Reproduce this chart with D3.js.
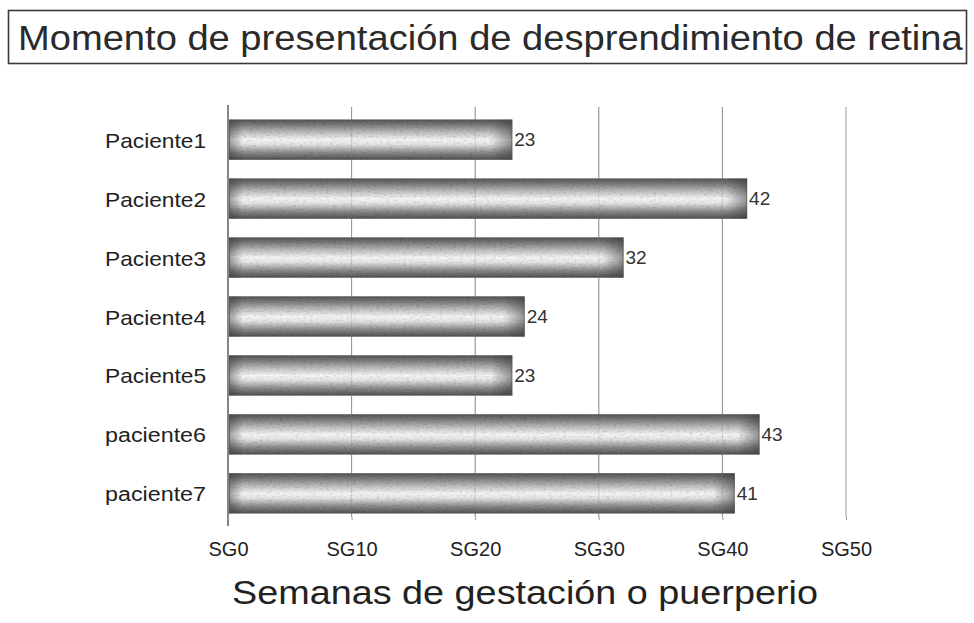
<!DOCTYPE html>
<html>
<head>
<meta charset="utf-8">
<script src="https://cdn.jsdelivr.net/npm/d3@7"></script>
<style>
  html, body { margin: 0; padding: 0; background: #fff; }
  svg { display: block; font-family: "Liberation Sans", Arial, Helvetica, sans-serif; }
</style>
</head>
<body>
<svg id="chart" width="974" height="623"></svg>
<script>
// Patients and the gestational week at which retinal detachment presented
const patients = ["Paciente1", "Paciente2", "Paciente3", "Paciente4", "Paciente5", "paciente6", "paciente7"];
const weeks = [23, 42, 32, 24, 23, 43, 41];
const tickValues = [0, 10, 20, 30, 40, 50];
const tickLabels = ["SG0", "SG10", "SG20", "SG30", "SG40", "SG50"];

const titleText = "Momento de presentación de desprendimiento de retina";
const axisTitle = "Semanas de gestación o puerperio";

const svg = d3.select("#chart");

const plot = { left: 228, right: 846, top: 107, bottom: 526 };

const x = d3.scaleLinear().domain([0, 50]).range([plot.left, plot.right]);
const y = d3.scaleBand().domain(patients).range([plot.top + 2, plot.bottom - 2]).paddingInner(0.32).paddingOuter(0.18);

// Widen a text horizontally about anchor ax so that it spans the given width
function stretchTo(sel, width, ax) {
  const len = sel.node().getComputedTextLength();
  const s = width / len;
  sel.attr("transform", `translate(${ax},0) scale(${s.toFixed(4)},1) translate(${-ax},0)`);
}

const defs = svg.append("defs");

// Cylinder-like vertical shading for bars
const vGrad = defs.append("linearGradient").attr("id", "barShade").attr("x1", 0).attr("y1", 0).attr("x2", 0).attr("y2", 1);
[[0, "#555555"], [0.12, "#777777"], [0.32, "#bdbdbd"], [0.5, "#f4f4f4"], [0.62, "#e2e2e2"], [0.82, "#8a8a8a"], [1, "#505050"]]
  .forEach(([o, c]) => vGrad.append("stop").attr("offset", o).attr("stop-color", c));

// Grainy print texture on the bars
const grain = defs.append("filter").attr("id", "grain").attr("x", 0).attr("y", 0).attr("width", 1).attr("height", 1);
grain.append("feTurbulence").attr("type", "fractalNoise").attr("baseFrequency", "0.3 0.55").attr("numOctaves", 2).attr("seed", 7).attr("result", "noise");
grain.append("feColorMatrix").attr("in", "noise").attr("type", "matrix")
  .attr("values", "0 0 0 0 0  0 0 0 0 0  0 0 0 0 0  0 0 0 -1.2 0.62").attr("result", "darkSpots");
grain.append("feComposite").attr("in", "darkSpots").attr("in2", "SourceAlpha").attr("operator", "in").attr("result", "spotsIn");
grain.append("feComponentTransfer").attr("in", "spotsIn").attr("result", "spotsSoft")
  .append("feFuncA").attr("type", "linear").attr("slope", 0.55);
const merge = grain.append("feMerge");
merge.append("feMergeNode").attr("in", "SourceGraphic");
merge.append("feMergeNode").attr("in", "spotsSoft");

// Title box
const titleG = svg.append("g");
titleG.append("rect").attr("x", 8.5).attr("y", 10.5).attr("width", 958).attr("height", 53)
  .attr("fill", "#fff").attr("stroke", "#3a3a3a").attr("stroke-width", 1.6);
const tt = titleG.append("text").attr("x", 18).attr("y", 50).attr("fill", "#2a2a2a")
  .attr("font-size", 35).text(titleText);
stretchTo(tt, 945, 18);

// Vertical gridlines
svg.append("g").selectAll("line").data(tickValues.slice(1)).join("line")
  .attr("x1", d => x(d)).attr("x2", d => x(d))
  .attr("y1", plot.top).attr("y2", plot.bottom - 9)
  .attr("stroke", "#9a9a9a").attr("stroke-width", 1);

// Bars
const bars = svg.append("g");
weeks.forEach((v, i) => {
  const x0 = x(0) + 1, x1 = x(v), w = x1 - x0;
  const id = "endShade" + i;
  const hg = defs.append("linearGradient").attr("id", id).attr("gradientUnits", "userSpaceOnUse")
    .attr("x1", x0).attr("x2", x1).attr("y1", 0).attr("y2", 0);
  const e1 = 14 / w, e2 = 22 / w;
  [[0, 0.45], [e1, 0], [1 - e2, 0], [1, 0.5]].forEach(([o, a]) =>
    hg.append("stop").attr("offset", o).attr("stop-color", "#333").attr("stop-opacity", a));
  const g = bars.append("g");
  g.append("rect").attr("x", x0).attr("y", y(patients[i])).attr("width", w).attr("height", y.bandwidth())
    .attr("fill", "url(#barShade)").attr("filter", "url(#grain)");
  g.append("rect").attr("x", x0).attr("y", y(patients[i])).attr("width", w).attr("height", y.bandwidth())
    .attr("fill", `url(#${id})`);
  g.append("rect").attr("x", x0 + 0.5).attr("y", y(patients[i]) + 0.5).attr("width", w - 1).attr("height", y.bandwidth() - 1)
    .attr("fill", "none").attr("stroke", "#555").attr("stroke-width", 1).attr("stroke-opacity", 0.6);
});

// Faint gridlines showing through the bars
svg.append("g").selectAll("line").data(tickValues.slice(1, 5)).join("line")
  .attr("x1", d => x(d)).attr("x2", d => x(d))
  .attr("y1", plot.top).attr("y2", plot.bottom - 9)
  .attr("stroke", "#777").attr("stroke-width", 1).attr("stroke-opacity", 0.25);

// Value labels
svg.append("g").selectAll("text").data(weeks).join("text")
  .attr("x", d => x(d) + 2).attr("y", (d, i) => y(patients[i]) + y.bandwidth() / 2)
  .attr("dy", "0.36em").attr("font-size", 19).attr("fill", "#333").text(d => d);

// Category axis
const yAxis = d3.axisLeft(y).tickSize(0).tickPadding(22);
const yG = svg.append("g").attr("transform", `translate(${plot.left},0)`).call(yAxis);
yG.select(".domain").remove();
yG.selectAll("text").attr("font-size", 20).attr("fill", "#222").attr("dy", "0.4em")
  .attr("font-family", "'Liberation Sans', Arial, sans-serif")
  .each(function () { stretchTo(d3.select(this), 101, -22); });
svg.append("line").attr("x1", plot.left).attr("x2", plot.left).attr("y1", plot.top - 2).attr("y2", plot.bottom)
  .attr("stroke", "#444").attr("stroke-width", 1.3);

// Value axis labels
const xAxis = d3.axisBottom(x).tickValues(tickValues).tickFormat((d, i) => tickLabels[i]).tickSize(3).tickPadding(22);
const xG = svg.append("g").attr("transform", `translate(0,${plot.bottom - 9})`).call(xAxis);
xG.select(".domain").remove();
xG.selectAll(".tick line").attr("stroke", "#999");
xG.selectAll("text").attr("font-size", 20).attr("fill", "#222")
  .attr("font-family", "'Liberation Sans', Arial, sans-serif");

// Axis title
const at = svg.append("text").attr("x", 232).attr("y", 604)
  .attr("font-size", 34).attr("fill", "#222").text(axisTitle);
stretchTo(at, 586, 232);
</script>
</body>
</html>
